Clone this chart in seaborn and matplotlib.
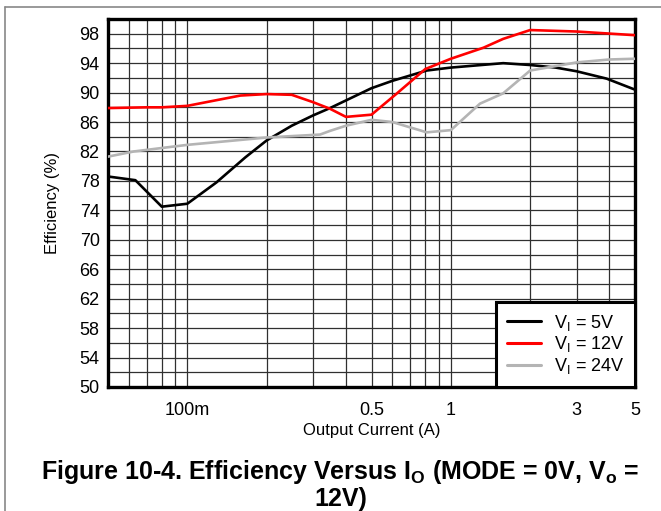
import matplotlib
matplotlib.use("Agg")
import matplotlib.pyplot as plt
import matplotlib.ticker as mticker
from matplotlib.lines import Line2D
import pandas as pd
import seaborn as sns

# values
i_5v = [0.05, 0.0635, 0.08, 0.1, 0.129, 0.166, 0.2, 0.249, 0.3, 0.348, 0.5, 0.6, 0.81, 1.0, 1.58, 2.0, 2.5, 3.0, 3.9, 5.0]
eff_5v = [78.6, 78.1, 74.5, 74.9, 77.8, 81.2, 83.5, 85.5, 86.9, 87.9, 90.6, 91.6, 93.0, 93.4, 94.0, 93.75, 93.4, 92.9, 91.9, 90.4]

i_12v = [0.05, 0.07, 0.08, 0.1, 0.126, 0.159, 0.2, 0.249, 0.3, 0.348, 0.4, 0.5, 0.62, 0.8, 1.0, 1.33, 1.58, 2.0, 3.0, 5.0]
eff_12v = [87.9, 88.0, 88.0, 88.2, 88.9, 89.6, 89.8, 89.7, 88.7, 87.8, 86.7, 87.0, 89.8, 93.2, 94.6, 96.1, 97.3, 98.5, 98.3, 97.8]

i_24v = [0.05, 0.0626, 0.1, 0.2, 0.319, 0.348, 0.4, 0.5, 0.6, 0.81, 1.0, 1.29, 1.58, 2.0, 3.0, 4.0, 5.0]
eff_24v = [81.3, 82.0, 82.9, 83.9, 84.3, 84.8, 85.5, 86.3, 86.0, 84.6, 84.9, 88.5, 89.9, 93.0, 94.1, 94.5, 94.6]

series_labels = [r"V$_\mathregular{I}$ = 5V", r"V$_\mathregular{I}$ = 12V", r"V$_\mathregular{I}$ = 24V"]
series_colors = ["#000000", "#ff0000", "#b4b4b4"]

x_ticks = [0.1, 0.5, 1, 3, 5]
x_ticklabels = ["100m", "0.5", "1", "3", "5"]
y_ticks = list(range(50, 99, 4))

df = pd.concat([
    pd.DataFrame({"current": i_5v, "eff": eff_5v, "vin": series_labels[0]}),
    pd.DataFrame({"current": i_12v, "eff": eff_12v, "vin": series_labels[1]}),
    pd.DataFrame({"current": i_24v, "eff": eff_24v, "vin": series_labels[2]}),
])

sns.set_style("white")
plt.rcParams["font.family"] = ["Liberation Sans", "DejaVu Sans"]
plt.rcParams["text.color"] = "black"
plt.rcParams["axes.labelcolor"] = "black"

fig = plt.figure(figsize=(6.61, 5.11), dpi=100)
ax = fig.add_axes([0.1634, 0.2427, 0.7973, 0.7201])

sns.lineplot(data=df, x="current", y="eff", hue="vin", palette=series_colors,
             hue_order=series_labels, estimator=None, sort=False, linewidth=1.9,
             ax=ax, zorder=3)

ax.set_xscale("log")
ax.set_xlim(0.05, 5)
ax.set_ylim(50, 100)

ax.xaxis.set_major_locator(mticker.FixedLocator(x_ticks))
ax.xaxis.set_major_formatter(mticker.FixedFormatter(x_ticklabels))
ax.xaxis.set_minor_locator(mticker.LogLocator(base=10, subs=range(1, 10), numticks=20))
ax.xaxis.set_minor_formatter(mticker.NullFormatter())
ax.yaxis.set_major_locator(mticker.FixedLocator(y_ticks))
ax.yaxis.set_minor_locator(mticker.MultipleLocator(2))

ax.grid(True, which="both", color="#303030", linewidth=0.9)
ax.tick_params(which="both", length=0, labelsize=13, colors="black")
ax.tick_params(axis="x", pad=11)
ax.tick_params(axis="y", pad=6)

for side in ax.spines.values():
    side.set_color("black")
    side.set_linewidth(2.4)

ax.set_xlabel("Output Current (A)", fontsize=12, labelpad=3)
ax.set_ylabel("Efficiency (%)", fontsize=12, labelpad=14)

leg = ax.legend(loc="lower right", fontsize=13, frameon=True, fancybox=False,
                framealpha=1, borderaxespad=0, handlelength=1.9, labelspacing=0.1,
                borderpad=0.6, handletextpad=0.7)
leg.get_frame().set_edgecolor("black")
leg.get_frame().set_linewidth(2.2)
for h in leg.get_lines():
    h.set_linewidth(2.2)

fig.text(0.515, 0.052,
         "Figure 10-4. Efficiency Versus I$_\\mathregular{O}$ (MODE = 0V, V$_\\mathregular{o}$ =\n12V)",
         ha="center", va="center", fontsize=18, fontweight="bold", linespacing=1.05)

# page border lines
fig.add_artist(Line2D([0.008, 1.0], [0.986, 0.986], color="#888888", linewidth=1.2))
fig.add_artist(Line2D([0.008, 0.008], [0.0, 0.986], color="#888888", linewidth=1.2))

fig.savefig("out.png", dpi=100)
